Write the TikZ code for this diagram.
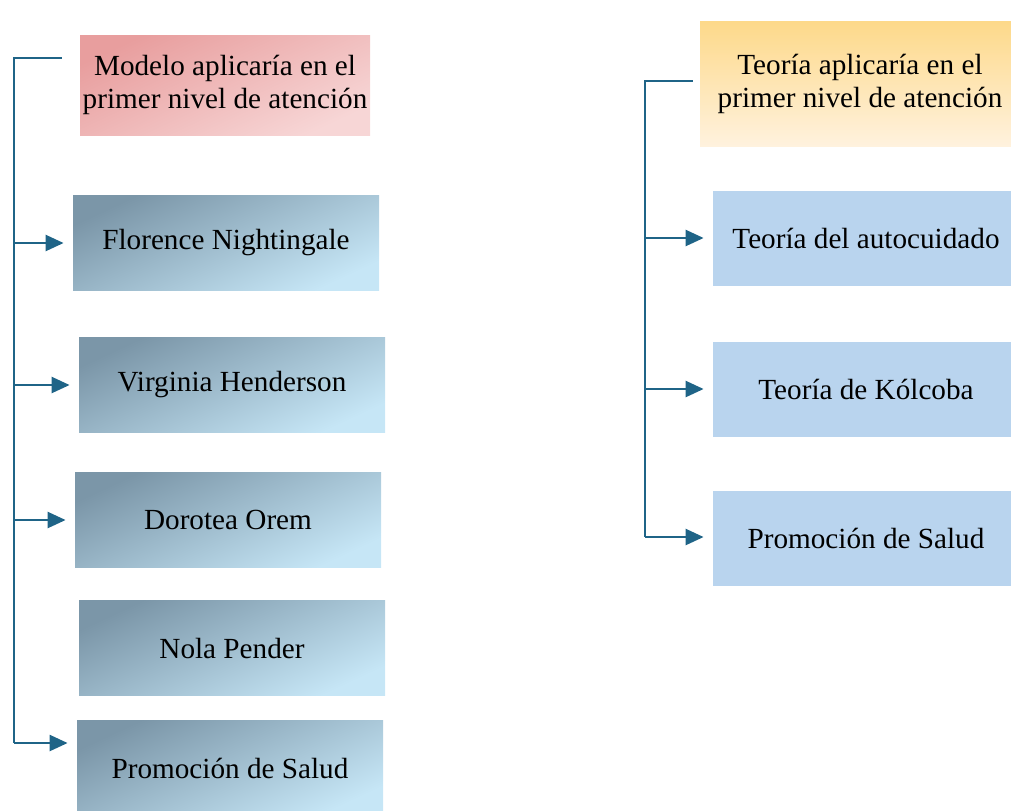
\documentclass[tikz,border=0pt]{standalone}
\usepackage{fontspec}
\setmainfont{Liberation Serif}
\usetikzlibrary{arrows.meta}

\definecolor{linkblue}{HTML}{1F6487}
\definecolor{steel}{HTML}{7B96A8}
\definecolor{sky}{HTML}{C6E6F6}
\definecolor{rosa}{HTML}{E89E9E}
\definecolor{rosaclaro}{HTML}{F7D6D6}
\definecolor{oro}{HTML}{FDD98A}
\definecolor{oroclaro}{HTML}{FFF2DE}
\definecolor{celeste}{HTML}{B9D4EE}

\begin{document}
\begin{tikzpicture}[x=0.5pt,y=-0.5pt,
        caja/.style={inner sep=0pt,minimum width=153pt,minimum height=47.5pt,align=center,
            font=\fontsize{14.6}{16.5}\selectfont},
        autora/.style={caja,top color=steel,bottom color=sky,shading angle=25},
        teoria/.style={caja,fill=celeste},
        link/.style={draw=linkblue,line width=1.2pt},
        flecha/.style={link,-{Triangle[length=9pt,width=8pt]},shorten >=4.5pt}]
        \useasboundingbox (0,0) rectangle (1011,810);

        % modelos (izquierda)
        \node[caja,minimum width=145pt,minimum height=50pt,top color=rosa,bottom color=rosaclaro,shading angle=25]
            (modelo) at (225,85) {Modelo aplicaría en el\\primer nivel de atención};
        \node[autora] (florence) at (226,243) {Florence Nightingale};
        \node[autora] (virginia) at (232,385) {Virginia Henderson};
        \node[autora] (dorotea) at (228,520) {Dorotea Orem};
        \node[autora] (nola) at (232,648) {Nola Pender};
        \node[autora] (promA) at (230,768) {Promoción de Salud};

        % teorias (derecha)
        \node[caja,minimum width=160pt,minimum height=62.5pt,top color=oro,bottom color=oroclaro]
            (teoria) at (860,84) {Teoría aplicaría en el\\primer nivel de atención};
        \node[teoria] (autocuidado) at (866,238) {Teoría del autocuidado};
        \node[teoria] (kolcoba) at (866,389) {Teoría de Kólcoba};
        \node[teoria] (promB) at (866,538) {Promoción de Salud};

        \coordinate (lt) at (14,58);
        \coordinate (lb) at (14,743);
        \coordinate (rt) at (645,81);
        \coordinate (rb) at (645,537);

        \draw[link] ([xshift=-9pt]modelo.west |- lt) -- (lt) -- (lb);
        \draw[flecha] (lb) -- (lb -| promA.west);
        \draw[flecha] (lt |- florence.west) -- (florence.west);
        \draw[flecha] (lt |- virginia.west) -- (virginia.west);
        \draw[flecha] (lt |- dorotea.west) -- (dorotea.west);

        \draw[link] ([xshift=-3.5pt]teoria.west |- rt) -- (rt) -- (rb);
        \draw[flecha] (rb) -- (rb -| promB.west);
        \draw[flecha] (rt |- autocuidado.west) -- (autocuidado.west);
        \draw[flecha] (rt |- kolcoba.west) -- (kolcoba.west);
    \end{tikzpicture}
\end{document}
